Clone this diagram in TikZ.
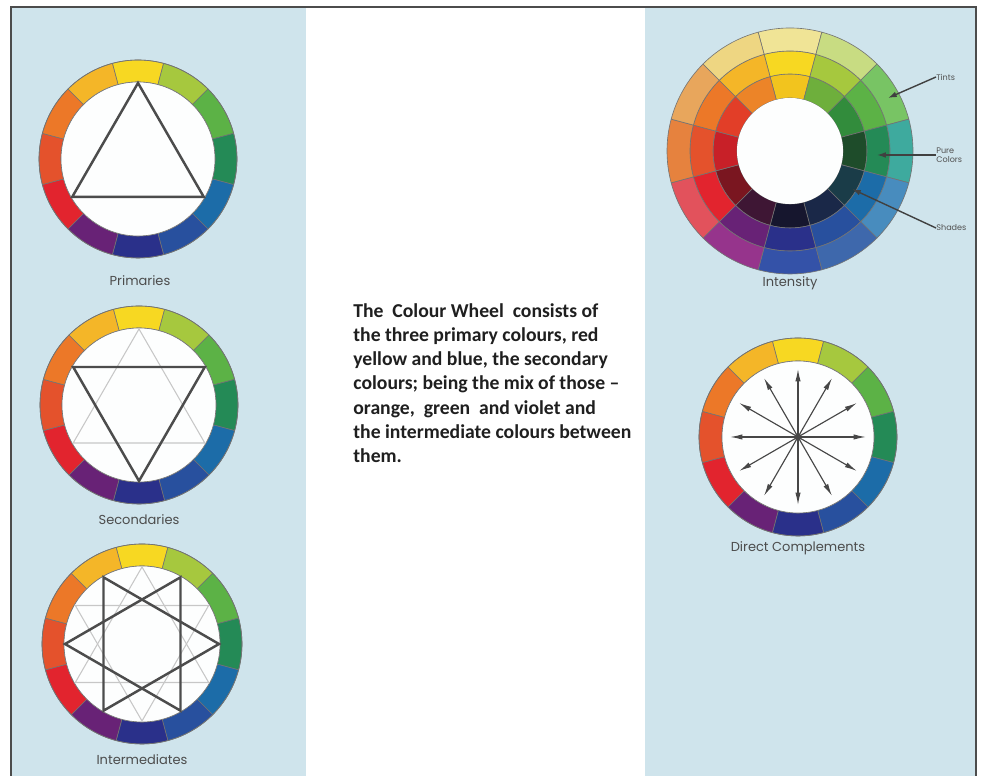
\documentclass[tikz,border=0pt]{standalone}
\usepackage{fontspec}
\setmainfont{Carlito}
\newfontfamily\labelfont{Poppins}
\usetikzlibrary{arrows.meta}

% pure hues, clockwise from the top (yellow)
\definecolor{hueA}{RGB}{247,216,34}  \definecolor{hueB}{RGB}{166,200,62}
\definecolor{hueC}{RGB}{92,178,70}   \definecolor{hueD}{RGB}{36,138,86}
\definecolor{hueE}{RGB}{28,108,168}  \definecolor{hueF}{RGB}{40,80,158}
\definecolor{hueG}{RGB}{42,48,138}   \definecolor{hueH}{RGB}{104,34,118}
\definecolor{hueI}{RGB}{226,36,46}   \definecolor{hueJ}{RGB}{228,82,44}
\definecolor{hueK}{RGB}{236,120,40}  \definecolor{hueL}{RGB}{244,182,40}
% tints
\definecolor{tintA}{RGB}{240,228,150} \definecolor{tintB}{RGB}{200,220,130}
\definecolor{tintC}{RGB}{120,196,100} \definecolor{tintD}{RGB}{62,170,158}
\definecolor{tintE}{RGB}{72,140,190}  \definecolor{tintF}{RGB}{62,104,172}
\definecolor{tintG}{RGB}{52,82,168}   \definecolor{tintH}{RGB}{150,52,140}
\definecolor{tintI}{RGB}{226,82,92}   \definecolor{tintJ}{RGB}{230,130,62}
\definecolor{tintK}{RGB}{232,166,92}  \definecolor{tintL}{RGB}{238,214,130}
% shades
\definecolor{shadeA}{RGB}{242,196,30}  \definecolor{shadeB}{RGB}{110,175,60}
\definecolor{shadeC}{RGB}{50,140,60}   \definecolor{shadeD}{RGB}{30,76,42}
\definecolor{shadeE}{RGB}{26,60,72}    \definecolor{shadeF}{RGB}{26,40,72}
\definecolor{shadeG}{RGB}{22,22,46}    \definecolor{shadeH}{RGB}{62,22,52}
\definecolor{shadeI}{RGB}{122,22,32}   \definecolor{shadeJ}{RGB}{200,32,40}
\definecolor{shadeK}{RGB}{226,62,40}   \definecolor{shadeL}{RGB}{236,132,40}
\definecolor{panel}{RGB}{207,228,236}

% twelve-part colour ring, #1 = centre, #2 = inner, #3 = outer radius
\newcommand\hueRing[3]{%
  \begin{scope}[shift={#1}]
    \foreach \c [count=\i from 0] in {hueA,hueB,hueC,hueD,hueE,hueF,hueG,hueH,hueI,hueJ,hueK,hueL}
      \filldraw[fill=\c, seam] (105-30*\i:#2) arc[start angle=105-30*\i, end angle=75-30*\i, radius=#2]
        -- (75-30*\i:#3) arc[start angle=75-30*\i, end angle=105-30*\i, radius=#3] -- cycle;
    \fill[white!97!panel] (0,0) circle[radius=#2];
    \draw[seam] (0,0) circle[radius=#2] (0,0) circle[radius=#3];
  \end{scope}}

\begin{document}
\begin{tikzpicture}[
  x=0.02cm, y=0.02cm,
  seam/.style={draw=black!55, line width=.35pt},
  bold/.style={draw=black!70, line width=1.4pt},
  faint/.style={draw=black!22, line width=.6pt},
  wheellabel/.style={font=\labelfont\fontsize{7.4}{9}\selectfont, text=black!70, inner sep=0pt},
  tinylabel/.style={font=\labelfont\fontsize{4.6}{5.4}\selectfont, text=black!68, inner sep=0pt, anchor=west, align=left},
  leader/.style={draw=black!75, line width=.8pt, -{Latex[length=5pt,width=3.2pt]}},
  cmp/.style={draw=black!72, line width=.65pt, {Latex[length=7pt,width=3pt]}-{Latex[length=7pt,width=3pt]}}
]
\useasboundingbox (0,0) rectangle (988,776);
\fill[white] (0,0) rectangle (988,776);
\fill[panel] (11,0) rectangle (306,769);
\fill[panel] (645,0) rectangle (976,769);
\draw[black!70, line width=.9pt] (11,0) -- (11,769) -- (976,769) -- (976,0);

% primaries
\hueRing{(138,617)}{77}{99}
\draw[bold] (138,617) ++(90:76) -- ++(240:131.6) -- ++(0:131.6) -- cycle;
\node[wheellabel] (prim) at (140,495) {Primaries};

% secondaries
\hueRing{(139,371)}{77}{99}
\begin{scope}[shift={(139,371)}]
  \draw[faint] (90:76) -- (210:76) -- (330:76) -- cycle;
  \draw[bold] (150:76) -- (30:76) -- (270:76) -- cycle;
\end{scope}
\node[wheellabel] (seco) at (139,256) {Secondaries};

% intermediates
\hueRing{(142,132)}{78}{100}
\begin{scope}[shift={(142,132)}]
  \draw[faint] (90:77) -- (210:77) -- (330:77) -- cycle;
  \draw[faint] (150:77) -- (30:77) -- (270:77) -- cycle;
  \draw[bold] (120:77) -- (0:77) -- (240:77) -- cycle;
  \draw[bold] (60:77) -- (180:77) -- (300:77) -- cycle;
\end{scope}
\node[wheellabel] (inte) at (142,16) {Intermediates};

% intensity
\begin{scope}[shift={(790,625)}]
  \foreach \c [count=\i from 0] in {A,B,C,D,E,F,G,H,I,J,K,L} {
    \filldraw[fill=shade\c, seam] (105-30*\i:53) arc[start angle=105-30*\i, end angle=75-30*\i, radius=53]
      -- (75-30*\i:77) arc[start angle=75-30*\i, end angle=105-30*\i, radius=77] -- cycle;
    \filldraw[fill=hue\c, seam] (105-30*\i:77) arc[start angle=105-30*\i, end angle=75-30*\i, radius=77]
      -- (75-30*\i:100) arc[start angle=75-30*\i, end angle=105-30*\i, radius=100] -- cycle;
    \filldraw[fill=tint\c, seam] (105-30*\i:100) arc[start angle=105-30*\i, end angle=75-30*\i, radius=100]
      -- (75-30*\i:123) arc[start angle=75-30*\i, end angle=105-30*\i, radius=123] -- cycle;
  }
  \fill[white!97!panel] (0,0) circle[radius=53];
\end{scope}
\node[wheellabel] (inten) at (790,493) {Intensity};
\coordinate (tintpt) at (888,678);
\coordinate (purept) at (877,621);
\coordinate (shadept) at (852,587);
\node[tinylabel] (tints) at (936,699) {Tints};
\node[tinylabel] (pure) at (936,621) {Pure\\Colors};
\node[tinylabel] (shades) at (936,548) {Shades};
\draw[leader] (tints.west) -- (tintpt);
\draw[leader] (pure.west) -- (purept);
\draw[leader] (shades.west) -- (shadept);

% direct complements
\hueRing{(798,339)}{76}{99}
\begin{scope}[shift={(798,339)}]
  \foreach \a in {90,60,30,0,-30,-60}
    \draw[cmp] (\a:68) -- (\a+180:68);
  \fill[black!72] (0,0) circle[radius=3.5];
\end{scope}
\node[wheellabel] (comp) at (798,228) {Direct Complements};

% text
\node[anchor=north west, inner sep=0pt, align=left,
      font=\bfseries\fontsize{11.2}{13.8}\selectfont, text=black!88] (desc) at (353,473)
  {The\ \ Colour Wheel\ \ consists of\\
   the three primary colours, red\\
   yellow and blue, the secondary\\
   colours; being the mix of those --\\
   orange,\ \ green\ \ and violet and\\
   the intermediate colours between\\
   them.};
\end{tikzpicture}
\end{document}
